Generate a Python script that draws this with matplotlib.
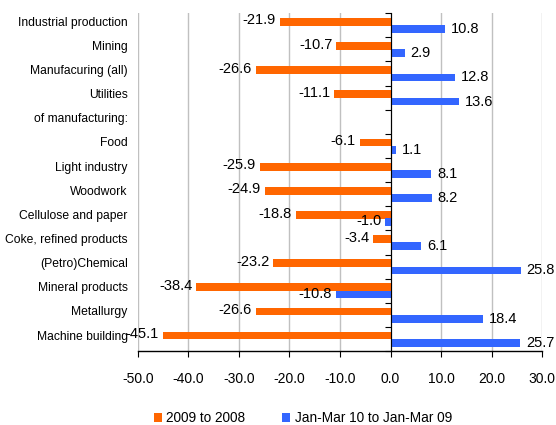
import numpy as np
import matplotlib
matplotlib.use('Agg')
import matplotlib.pyplot as plt
import matplotlib.transforms as mtransforms

plt.rcParams['font.family'] = ['Liberation Sans', 'DejaVu Sans']

categories = ['Industrial production', 'Mining', 'Manufacuring (all)', 'Utilities',
              'of manufacturing:', 'Food', 'Light industry', 'Woodwork',
              'Cellulose and paper', 'Coke, refined products', '(Petro)Chemical',
              'Mineral products', 'Metallurgy', 'Machine building']
y2009 = [-21.9, -10.7, -26.6, -11.1, np.nan, -6.1, -25.9, -24.9, -18.8, -3.4,
         -23.2, -38.4, -26.6, -45.1]
y2010 = [10.8, 2.9, 12.8, 13.6, np.nan, 1.1, 8.1, 8.2, -1.0, 6.1,
         25.8, -10.8, 18.4, 25.7]
series_names = ['2009 to 2008', 'Jan-Mar 10 to Jan-Mar 09']
xticks = [-50, -40, -30, -20, -10, 0, 10, 20, 30]

orange = '#FF6600'
blue = '#3366FF'

fig = plt.figure(figsize=(5.56, 4.25), dpi=100)
ax = fig.add_axes([0.248, 0.174, 0.727, 0.795])

pos = np.arange(len(categories))
h = 0.32
b1 = ax.barh(pos - 0.14, y2009, height=h, color=orange, label=series_names[0], zorder=3)
b2 = ax.barh(pos + 0.16, y2010, height=h, color=blue, label=series_names[1], zorder=3)

ax.set_xlim(-50, 30)
ax.set_ylim(len(categories) - 0.5, -0.5)
ax.set_xticks(xticks)
ax.set_xticklabels(['%.1f' % v for v in xticks], fontsize=10)
ax.grid(axis='x', color='#c0c0c0', linewidth=1, zorder=0)

for s in ['top', 'right']:
    ax.spines[s].set_visible(False)
ax.spines['left'].set_position(('data', 0))
ax.spines['left'].set_zorder(4)
ax.spines['bottom'].set_linewidth(1)
ax.set_yticks(np.arange(-0.5, len(categories) + 0.5, 1))
ax.set_yticklabels([])
ax.tick_params(axis='y', length=4, direction='out')
ax.tick_params(axis='x', length=4, pad=11)

trans = mtransforms.blended_transform_factory(ax.transAxes, ax.transData)
for i, c in enumerate(categories):
    ax.text(-0.025, i - 0.1, c, transform=trans, ha='right', va='center',
            fontsize=8.7, clip_on=False)

for i, v in enumerate(y2009):
    if np.isnan(v):
        continue
    ax.annotate('%.1f' % v, (v, pos[i] - 0.14), xytext=(-3, 1), textcoords='offset points',
                ha='right', va='center', fontsize=10.5, zorder=5)
for i, v in enumerate(y2010):
    if np.isnan(v):
        continue
    if v < 0:
        ax.annotate('%.1f' % v, (v, pos[i] + 0.12), xytext=(-3, 0), textcoords='offset points',
                    ha='right', va='center', fontsize=10.5, zorder=5)
    else:
        ax.annotate('%.1f' % v, (v, pos[i] + 0.16), xytext=(4, 0), textcoords='offset points',
                    ha='left', va='center', fontsize=10.5, zorder=5)

fig.legend(handles=[b1, b2], loc='lower center', bbox_to_anchor=(0.545, -0.03), ncol=2,
           frameon=False, fontsize=9.8, handlelength=0.6, handleheight=0.6,
           handletextpad=0.35, columnspacing=2.7)

fig.savefig('out.png', dpi=100)
